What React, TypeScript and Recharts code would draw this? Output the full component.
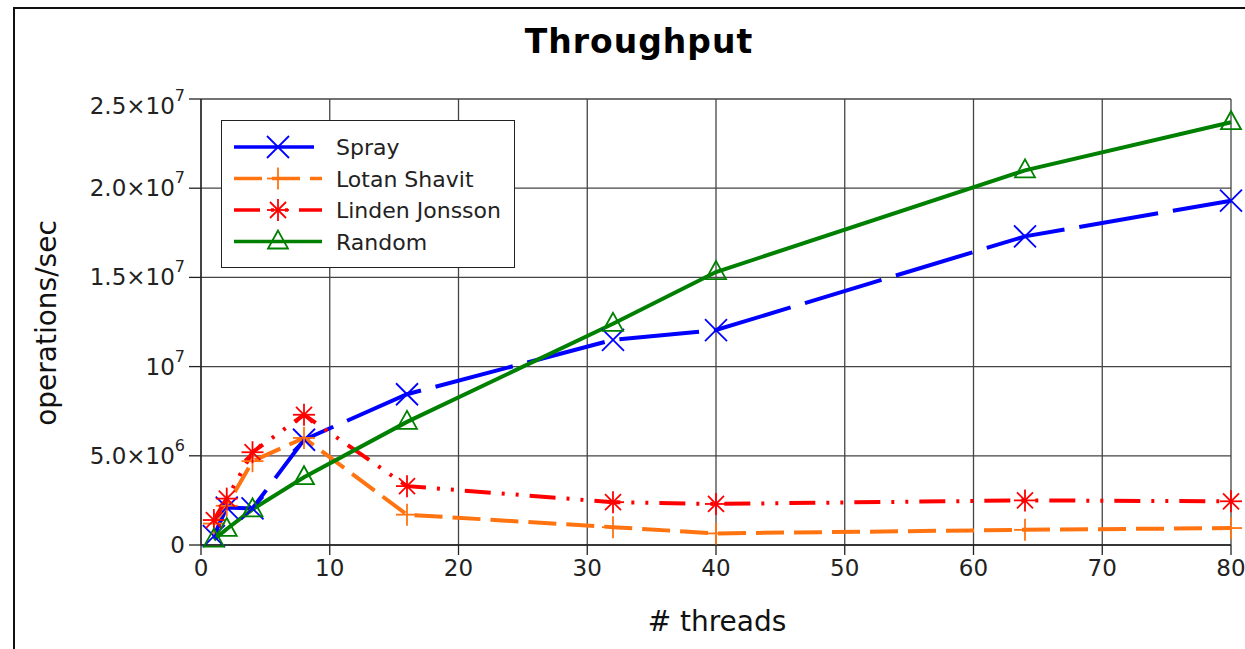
import React from 'react';
import { LineChart, Line, XAxis, YAxis, CartesianGrid, Legend } from 'recharts';

const threads = [1, 2, 4, 8, 16, 32, 40, 64, 80];
const spray = [500000, 2100000, 2050000, 5900000, 8450000, 11500000, 12050000, 17300000, 19300000];
const lotanShavit = [1200000, 2200000, 4700000, 6000000, 1700000, 1000000, 650000, 850000, 950000];
const lindenJonsson = [1400000, 2600000, 5200000, 7300000, 3300000, 2400000, 2300000, 2500000, 2450000];
const random = [300000, 900000, 2000000, 3800000, 6900000, 12400000, 15300000, 21000000, 23700000];

const xTicks = [0, 10, 20, 30, 40, 50, 60, 70, 80];
const yTicks = [0, 5000000, 10000000, 15000000, 20000000, 25000000];
const yTickBase = ['0', '5.0×10', '10', '1.5×10', '2.0×10', '2.5×10'];
const yTickExp = ['', '6', '7', '7', '7', '7'];

const FONT = '"DejaVu Sans", sans-serif';

const series = [
  { key: 'spray', name: 'Spray', color: '#0000ff', dash: '80 15', marker: 'x' },
  { key: 'lotan', name: 'Lotan Shavit', color: '#ff7310', dash: '28 10', marker: 'plus' },
  { key: 'linden', name: 'Linden Jonsson', color: '#ff0000', dash: '26 11 3 11 3 11', marker: 'star' },
  { key: 'random', name: 'Random', color: '#008000', dash: undefined, marker: 'tri' },
];

const Marker = ({ cx, cy, type, color }: { cx: number; cy: number; type: string; color: string }) => {
  const s = 11;
  const sw = 1.8;
  if (type === 'x') {
    return (
      <g stroke={color} strokeWidth={sw}>
        <line x1={cx - s} y1={cy - s} x2={cx + s} y2={cy + s} />
        <line x1={cx - s} y1={cy + s} x2={cx + s} y2={cy - s} />
      </g>
    );
  }
  if (type === 'plus') {
    return (
      <g stroke={color} strokeWidth={sw}>
        <line x1={cx - s} y1={cy} x2={cx + s} y2={cy} />
        <line x1={cx} y1={cy - s} x2={cx} y2={cy + s} />
      </g>
    );
  }
  if (type === 'star') {
    const d = 8;
    return (
      <g stroke={color} strokeWidth={sw}>
        <line x1={cx - s} y1={cy} x2={cx + s} y2={cy} />
        <line x1={cx} y1={cy - s} x2={cx} y2={cy + s} />
        <line x1={cx - d} y1={cy - d} x2={cx + d} y2={cy + d} />
        <line x1={cx - d} y1={cy + d} x2={cx + d} y2={cy - d} />
      </g>
    );
  }
  return (
    <polygon
      points={`${cx},${cy - 11} ${cx - 10},${cy + 7} ${cx + 10},${cy + 7}`}
      fill="none"
      stroke={color}
      strokeWidth={sw}
    />
  );
};

const makeDot = (type: string, color: string) => (props: any) => {
  const { cx, cy, index } = props;
  if (cx == null || cy == null) return <g key={index} />;
  return <Marker key={index} cx={cx} cy={cy} type={type} color={color} />;
};

const YTick = (props: any) => {
  const { x, y, payload, index } = props;
  const i = yTicks.indexOf(payload.value);
  const shift = i === yTicks.length - 1 ? 7 : 0;
  return (
    <text x={x - 2} y={y + shift} dy={8} textAnchor="end" fontFamily={FONT} fontSize={23} fill="#222" key={index}>
      <tspan>{yTickBase[i]}</tspan>
      {yTickExp[i] ? (
        <tspan dy={-13} fontSize={16}>{yTickExp[i]}</tspan>
      ) : null}
    </text>
  );
};

const XTick = (props: any) => {
  const { x, y, payload } = props;
  return (
    <text x={x} y={y} dy={19} textAnchor="middle" fontFamily={FONT} fontSize={23} fill="#222">
      {payload.value}
    </text>
  );
};

const LegendBox = () => (
  <div style={{ border: '1.5px solid #222', background: '#fff', width: 292, height: 146 }}>
    <svg width={292} height={146}>
      {series.map((s, i) => {
        const y = 26 + i * 31.5;
        return (
          <g key={s.key}>
            <line x1={12} y1={y} x2={100} y2={y} stroke={s.color} strokeWidth={3.5} strokeDasharray={s.dash} />
            <Marker cx={56} cy={y} type={s.marker} color={s.color} />
            <text x={114} y={y + 8} fontFamily={FONT} fontSize={22} fill="#222">
              {s.name}
            </text>
          </g>
        );
      })}
    </svg>
  </div>
);

const data = threads.map((t, i) => ({
  threads: t,
  spray: spray[i],
  lotan: lotanShavit[i],
  linden: lindenJonsson[i],
  random: random[i],
}));

const App: React.FC = () => {
  return (
    <div style={{ position: 'absolute', left: 0, top: 0, width: 1245, height: 649, overflow: 'hidden', background: '#fff' }}>
      <div
        style={{
          position: 'absolute',
          left: 13,
          top: 7,
          width: 1400,
          height: 800,
          borderLeft: '2px solid #111',
          borderTop: '2px solid #111',
        }}
      />
      <div
        style={{
          position: 'absolute',
          left: 0,
          top: 22,
          width: 1278,
          textAlign: 'center',
          fontFamily: FONT,
          fontWeight: 'bold',
          fontSize: 33,
          letterSpacing: 1,
          color: '#000',
        }}
      >
        Throughput
      </div>
      <div
        style={{
          position: 'absolute',
          left: 0,
          top: 605,
          width: 1434,
          textAlign: 'center',
          fontFamily: FONT,
          fontSize: 28,
          color: '#111',
        }}
      >
        # threads
      </div>
      <div
        style={{
          position: 'absolute',
          left: 46,
          top: 323,
          transform: 'translate(-50%, -50%) rotate(-90deg)',
          fontFamily: FONT,
          fontSize: 28,
          color: '#111',
          whiteSpace: 'nowrap',
        }}
      >
        operations/sec
      </div>
      <div style={{ position: 'absolute', left: 0, top: 0 }}>
        <LineChart width={1245} height={649} data={data} margin={{ top: 99, right: 14, bottom: 64, left: 0 }}>
          <CartesianGrid stroke="#444" strokeWidth={1.3} horizontalValues={yTicks} verticalValues={xTicks} />
          <XAxis
            dataKey="threads"
            type="number"
            domain={[0, 80]}
            ticks={xTicks}
            interval={0}
            height={40}
            tickSize={10}
            tickLine={{ stroke: '#222', strokeWidth: 1.3 }}
            axisLine={{ stroke: '#222', strokeWidth: 1.3 }}
            tick={<XTick />}
          />
          <YAxis
            type="number"
            domain={[0, 25000000]}
            ticks={yTicks}
            interval={0}
            width={201}
            tickSize={12}
            tickLine={{ stroke: '#222', strokeWidth: 1.3 }}
            axisLine={{ stroke: '#222', strokeWidth: 1.3 }}
            tick={<YTick />}
          />
          <Legend
            layout="horizontal"
            verticalAlign="middle"
            align="center"
            content={<LegendBox />}
            wrapperStyle={{ position: 'absolute', left: 221, top: 120, width: 295, height: 149 }}
          />
          {series.map((s) => (
            <Line
              key={s.key}
              dataKey={s.key}
              name={s.name}
              type="linear"
              stroke={s.color}
              strokeWidth={4}
              strokeDasharray={s.dash}
              dot={makeDot(s.marker, s.color)}
              activeDot={false}
              isAnimationActive={false}
            />
          ))}
        </LineChart>
      </div>
    </div>
  );
};

export default App;
